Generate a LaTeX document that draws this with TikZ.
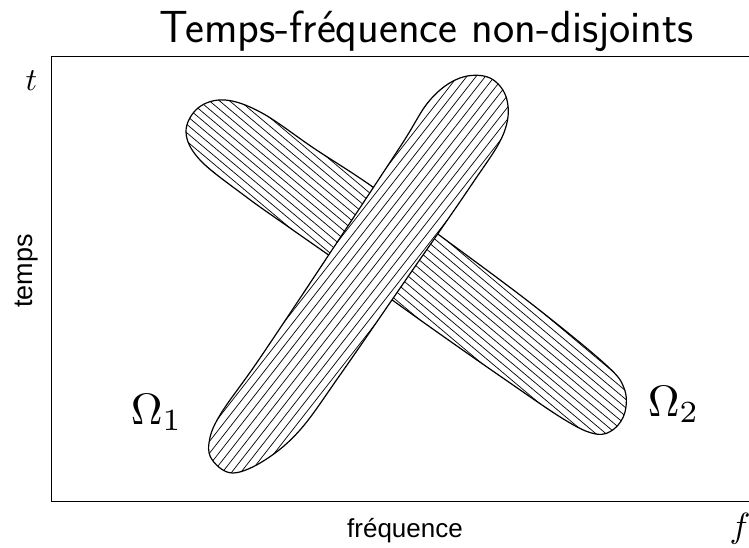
\documentclass[tikz,border=0pt]{standalone}
\usepackage{fontspec}
\newfontfamily\arialfont{Liberation Sans}
\newcommand\shapeA{plot[smooth cycle, tension=0.6] coordinates {(233,473) (213,461) (209,443) (220,415) (260,358) (330,253) (400,147) (430,100) (460,78) (490,78) (507,100) (503,135) (470,187) (405,281) (340,375) (300,430) (265,460)}}
\newcommand\shapeB{plot[smooth cycle, tension=0.6] coordinates {(186,132) (198,108) (225,100) (262,113) (315,149) (370,185) (450,243) (533,305) (605,364) (624,388) (625,412) (614,429) (596,434) (565,420) (500,376) (430,327) (360,277) (290,228) (245,196) (200,160)}}
\begin{document}
\begin{tikzpicture}[x=1pt,y=-1pt,
  outline/.style={line width=1.2pt, line join=round},
  hatch/.style={line width=0.7pt},
  lbl/.style={inner sep=0pt, anchor=base west}]
\useasboundingbox (0,0) rectangle (749,548);
\draw[line width=1pt] (770,57) -- (51,57) -- (51,501) -- (770,501);
% Omega 2 (NW-SE)
\begin{scope}
  \clip \shapeB;
  \fill[white] (0,0) rectangle (749,548);
  \foreach \k in {-60,...,60} {
    \draw[hatch] ({405-\k*6.5*sin(40)-500*cos(40)},{265+\k*6.5*cos(40)-500*sin(40)})
      -- ({405-\k*6.5*sin(40)+500*cos(40)},{265+\k*6.5*cos(40)+500*sin(40)});
  }
\end{scope}
\draw[outline] \shapeB;
% Omega 1 (SW-NE)
\begin{scope}
  \clip \shapeA;
  \fill[white] (0,0) rectangle (749,548);
  \foreach \k in {-60,...,60} {
    \draw[hatch] ({358+\k*7.3*sin(52)-500*cos(52)},{275+\k*7.3*cos(52)+500*sin(52)})
      -- ({358+\k*7.3*sin(52)+500*cos(52)},{275+\k*7.3*cos(52)-500*sin(52)});
  }
\end{scope}
\draw[outline] \shapeA;
% labels
\node[inner sep=0pt, anchor=base] (title) at (427,43) {\fontsize{45}{54}\selectfont\sffamily Temps-fréquence non-disjoints};
\node[lbl, scale=3.2] (tlab) at (25,91) {$t$};
\node[lbl, scale=3.5] (flab) at (729,537) {$f$};
\node[inner sep=0pt, anchor=center, rotate=90] (temps) at (27,271) {\fontsize{27}{32}\selectfont\arialfont temps};
\node[inner sep=0pt, anchor=base] (freq) at (405,537) {\fontsize{26}{32}\selectfont\arialfont fréquence};
\node[lbl, scale=4.4] (om1) at (130,424) {$\Omega_1$};
\node[lbl, scale=4.4] (om2) at (647,416) {$\Omega_2$};
\end{tikzpicture}
\end{document}
